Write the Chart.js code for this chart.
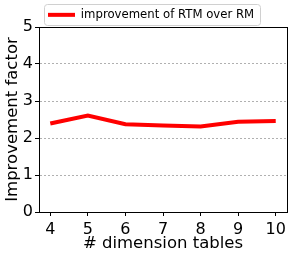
<!DOCTYPE html>
<html><head><meta charset="utf-8">
<script src="https://cdn.jsdelivr.net/npm/chart.js@4"></script>
<style>html,body{margin:0;padding:0;background:#fff}#c{display:block}</style>
</head><body>
<canvas id="c" width="293" height="257"></canvas>
<script>
const categories = [4, 5, 6, 7, 8, 9, 10];
const improvement = [2.39, 2.61, 2.37, 2.34, 2.31, 2.44, 2.46];
const yTicks = [0, 1, 2, 3, 4, 5];
const seriesLabel = 'improvement of RTM over RM';

const frame = {
  id: 'frame',
  afterDraw(chart) {
    const {ctx, chartArea: a} = chart;
    ctx.save();
    ctx.strokeStyle = '#000';
    ctx.lineWidth = 1;
    ctx.strokeRect(Math.round(a.left) + 0.5, Math.round(a.top) + 0.5, Math.round(a.right - a.left), Math.round(a.bottom - a.top));
    const hb = chart.legend.legendHitBoxes[0];
    if (hb) {
      const cy = hb.top + hb.height / 2;
      const x = Math.round(hb.left - 4), y = Math.round(cy - 10.5), w = Math.round(hb.width + 10), h = 21, r = 3;
      ctx.strokeStyle = '#d0d0d0';
      ctx.beginPath();
      ctx.roundRect(x + 0.5, y + 0.5, w, h, r);
      ctx.stroke();
    }
    ctx.restore();
  }
};

new Chart(document.getElementById('c'), {
  type: 'line',
  data: {
    datasets: [{
      label: seriesLabel,
      data: categories.map((c, i) => ({x: c, y: improvement[i]})),
      borderColor: '#ff0000',
      backgroundColor: '#ff0000',
      borderWidth: 4,
      pointRadius: 0,
      tension: 0,
      fill: false
    }]
  },
  options: {
    responsive: false,
    animation: false,
    layout: {padding: {top: 0, right: 6, left: 0, bottom: 0}},
    plugins: {
      legend: {
        display: true,
        position: 'top',
        align: 'start',
        fullSize: false,
        maxHeight: 27,
        labels: {
          usePointStyle: true,
          pointStyle: 'line',
          pointStyleWidth: 27,
          boxWidth: 27,
          padding: 9,
          color: '#000',
          font: {family: 'DejaVu Sans', size: 11.7}
        }
      },
      tooltip: {enabled: false}
    },
    scales: {
      x: {
        type: 'linear',
        min: 3.7,
        max: 10.3,
        afterBuildTicks(s) { s.ticks = categories.map(v => ({value: v})); },
        afterFit(s) { s.height = 45; },
        grid: {drawOnChartArea: false, tickLength: 4, tickColor: '#000'},
        border: {color: '#000'},
        ticks: {color: '#000', font: {family: 'DejaVu Sans', size: 16}, padding: 4, maxRotation: 0},
        title: {display: true, text: '# dimension tables', color: '#000', font: {family: 'DejaVu Sans', size: 16.5}, padding: {top: 0, bottom: 3}}
      },
      y: {
        min: 0,
        max: 5,
        afterBuildTicks(s) { s.ticks = yTicks.map(v => ({value: v})); },
        afterFit(s) { s.width = 39; },
        grid: {color: '#b0b0b0', tickColor: '#000', tickLength: 4, tickBorderDash: []},
        border: {color: '#000', dash: [2, 2]},
        ticks: {color: '#000', font: {family: 'DejaVu Sans', size: 16}, padding: 2},
        title: {display: true, text: 'Improvement factor', color: '#000', font: {family: 'DejaVu Sans', size: 16.5}, padding: {top: 3, bottom: 0}}
      }
    }
  },
  plugins: [frame]
});
</script>
</body></html>
